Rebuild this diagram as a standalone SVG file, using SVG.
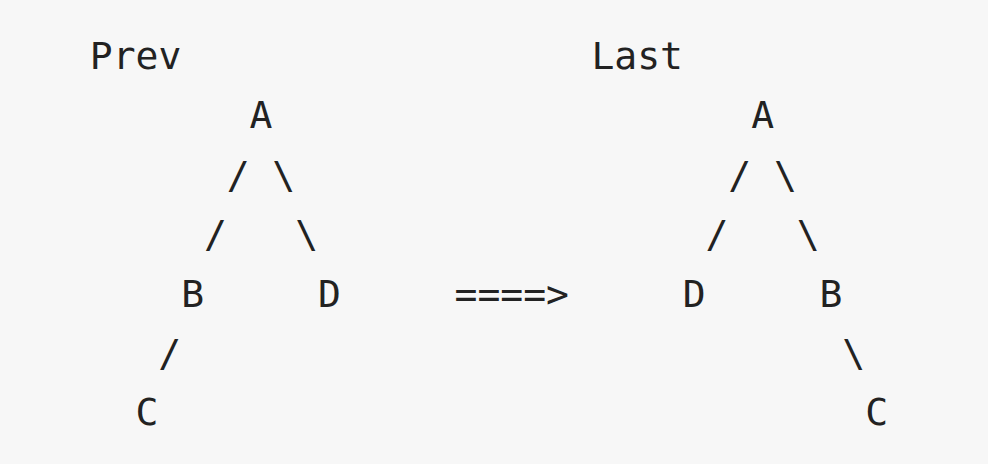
<svg xmlns="http://www.w3.org/2000/svg" width="988" height="464" viewBox="0 0 988 464">
<style>
text{font-family:"DejaVu Sans Mono","Liberation Mono",monospace;font-size:38px;fill:#222;text-anchor:middle}
</style>
<rect width="988" height="464" fill="#f7f7f7"/>
<g id="labels">
<text x="135.6" y="69">Prev</text>
<text x="637.2" y="69">Last</text>
<text id="arrow" x="511.8" y="306.6">====&gt;</text>
</g>
<g id="prev-A"><text x="261" y="128.4">A</text></g>
<g id="prev-B"><text x="192.6" y="306.6">B</text></g>
<g id="prev-D"><text x="329.4" y="306.6">D</text></g>
<g id="prev-C"><text x="147" y="425.4">C</text></g>
<g id="last-A"><text x="762.6" y="128.4">A</text></g>
<g id="last-D"><text x="694.2" y="306.6">D</text></g>
<g id="last-B"><text x="831" y="306.6">B</text></g>
<g id="last-C"><text x="876.6" y="425.4">C</text></g>
<g id="connectors">
<text x="238.2" y="187.8">/</text>
<text x="283.8" y="187.8">\</text>
<text x="215.4" y="247.2">/</text>
<text x="306.6" y="247.2">\</text>
<text x="169.8" y="366">/</text>
<text x="739.8" y="187.8">/</text>
<text x="785.4" y="187.8">\</text>
<text x="717" y="247.2">/</text>
<text x="808.2" y="247.2">\</text>
<text x="853.8" y="366">\</text>
</g>
</svg>
